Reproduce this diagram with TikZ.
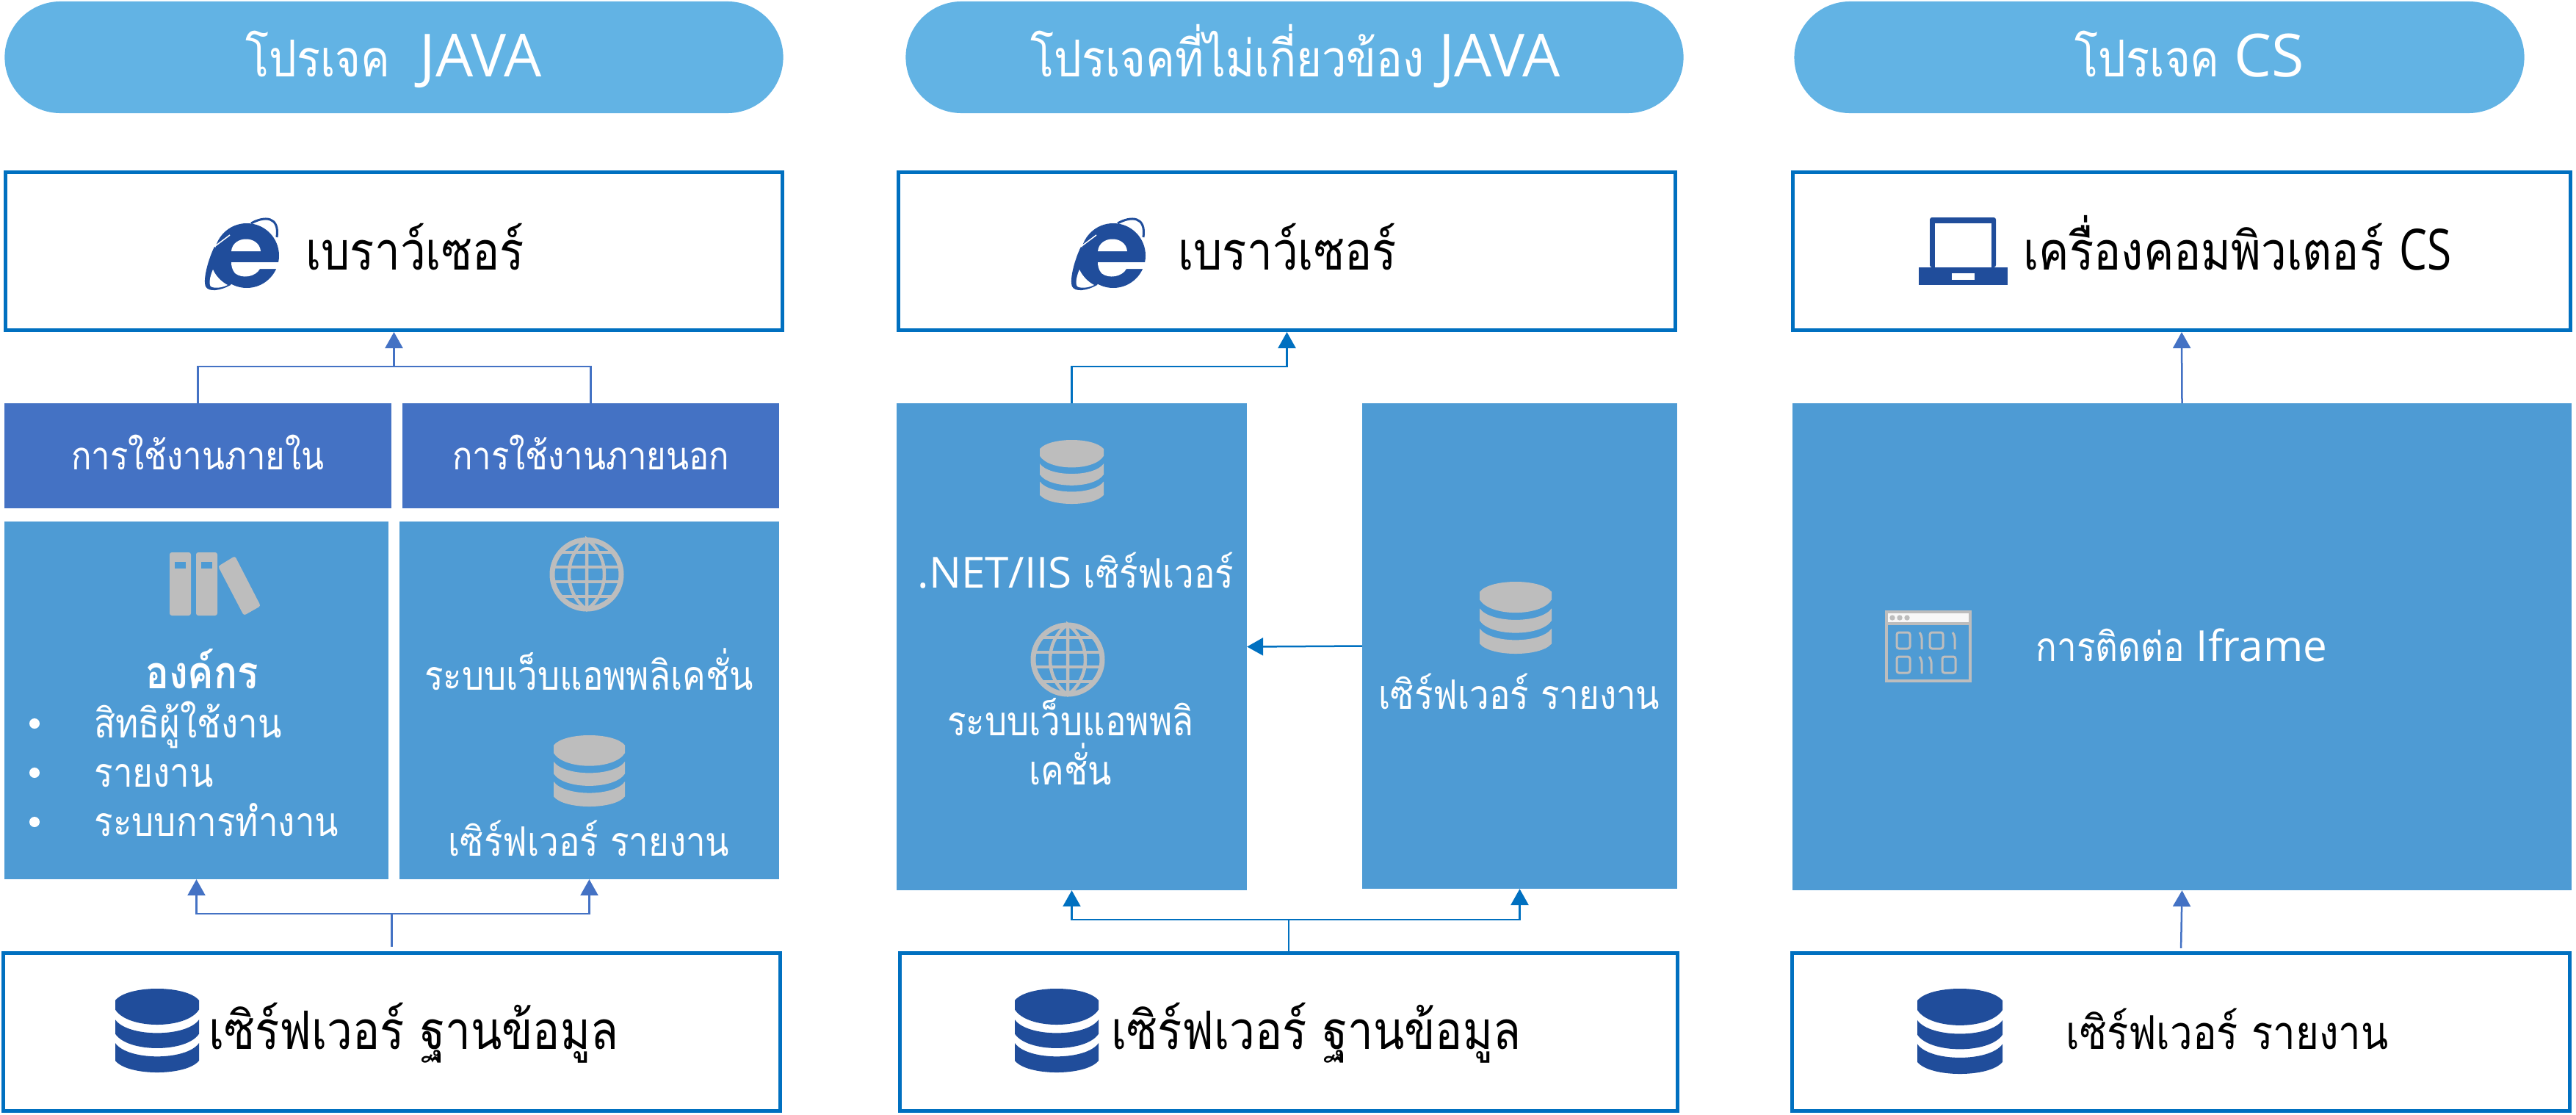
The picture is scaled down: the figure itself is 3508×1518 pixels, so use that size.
\documentclass[tikz,border=0pt]{standalone}
\usepackage{fontspec}
\setmainfont[Script=Thai,FakeStretch=0.86]{Loma}
\newfontfamily\latinfont{Open Sans}
\newfontfamily\narrowfont[FakeStretch=0.78]{Open Sans}
\usetikzlibrary{arrows.meta,shapes.misc}

\definecolor{pillblue}{HTML}{62B3E4}
\definecolor{blockblue}{HTML}{4E9BD4}
\definecolor{headblue}{HTML}{4472C4}
\definecolor{edgeblue}{HTML}{0070C0}
\definecolor{iconnavy}{HTML}{204D9B}
\definecolor{icongray}{HTML}{BDBDBD}

\newcommand{\titleword}[1]{{\latinfont\fontsize{23}{28}\selectfont #1}}
\newcommand{\frameword}[1]{{\narrowfont\fontsize{22}{28}\selectfont #1}}
\newcommand{\blockword}[1]{{\latinfont\fontsize{16.6}{20}\selectfont #1}}

\tikzset{
  pillbox/.style={rounded rectangle,fill=pillblue,minimum height=1.52cm,outer sep=0pt},
  framebox/.style={draw=edgeblue,line width=0.05cm,fill=white,minimum width=10.58cm,minimum height=2.15cm},
  headbox/.style={fill=headblue,minimum height=1.43cm,outer sep=0pt,text=white,font=\fontsize{15}{20}\selectfont,text height=15pt,text depth=4pt},
  blockbox/.style={fill=blockblue,outer sep=0pt},
  titletext/.style={anchor=base,text=white,inner sep=0pt,font=\fontsize{19.7}{28}\selectfont},
  frametext/.style={anchor=base,text=black,inner sep=0pt,font=\fontsize{20.5}{28}\selectfont},
  blocktext/.style={anchor=base,text=white,inner sep=0pt,font=\fontsize{15.7}{20}\selectfont},
  wire/.style={line width=0.025cm},
  tipped/.style={-{Triangle[length=0.22cm,width=0.24cm]}},
  pics/dbicon/.style={code={
    \fill[#1] (0,14) .. controls (15,-4.67) and (85,-4.67) .. (100,14) -- (100,25) .. controls (85,49) and (15,49) .. (0,25) -- cycle;
    \fill[#1] (0,37) .. controls (15,58.3) and (85,58.3) .. (100,37) -- (100,54) .. controls (85,76.7) and (15,76.7) .. (0,54) -- cycle;
    \fill[#1] (0,65) .. controls (15,86.3) and (85,86.3) .. (100,65) -- (100,86) .. controls (85,104.7) and (15,104.7) .. (0,86) -- cycle;
  }},
  pics/globeicon/.style={code={
    \draw[icongray,line width=0.07cm] (0,0) circle (47);
    \draw[icongray,line width=0.045cm] (0,-48) .. controls (-32,-25) and (-32,25) .. (0,48) .. controls (32,25) and (32,-25) .. (0,-48) -- (0,48);
    \foreach \yy/\xx in {-30/36,-10/47,10/47,30/36}
      \draw[icongray,line width=0.045cm] (-\xx,\yy) -- (\xx,\yy);
  }},
  pics/ielogo/.style={code={
    \fill[iconnavy] (32,56) .. controls (24,72) and (16,100) .. (20,110) .. controls (24,118) and (40,116) .. (54,108) -- (70,80) -- cycle;
    \fill[white] (30,87) .. controls (26,96) and (24,106) .. (27,110) .. controls (32,113) and (42,112) .. (50,108) .. controls (42,104) and (34,96) .. (30,87) -- cycle;
    \fill[iconnavy] (76,68) circle (44);
    \draw[iconnavy,line width=0.03cm] (82,24) .. controls (100,14) and (121,14) .. (117,43);
    \draw[white,line width=0.015cm] (33,55) -- (53,40);
    \fill[white] (55,62) .. controls (57,40) and (93,40) .. (95,62) -- cycle;
    \fill[white] (55,77) -- (124,77) -- (118,86) -- (94,86) .. controls (88,97) and (70,100) .. (60,92) .. controls (56,87) and (55,82) .. (55,77) -- cycle;
  }}
}

\begin{document}
\begin{tikzpicture}[x=0.01cm,y=-0.01cm]
  \useasboundingbox (0,0) rectangle (3508,1518);

  % titles
  \node[pillbox,minimum width=10.83cm] (pilla) at (536.5,78) {};
  \node[pillbox,minimum width=10.82cm] (pillb) at (1763,78) {};
  \node[pillbox,minimum width=10.17cm] (pillc) at (2940.5,78) {};
  \node[titletext] (titlea) at (536,104) {โปรเจค\ \ \titleword{JAVA}};
  \node[titletext] (titleb) at (1764,104) {โปรเจคที่ไม่เกี่ยวข้อง \titleword{JAVA}};
  \node[titletext] (titlec) at (2982,104) {โปรเจค \titleword{CS}};

  % JAVA column
  \node[framebox] (browsera) at (536.5,342) {};
  \node[headbox,minimum width=5.27cm] (usein) at (269.5,620.5) {การใช้งานภายใน};
  \node[headbox,minimum width=5.13cm] (useout) at (804.5,620.5) {การใช้งานภายนอก};
  \node[blockbox,minimum width=5.23cm,minimum height=4.87cm] (orgbox) at (267.5,953.5) {};
  \node[blockbox,minimum width=5.17cm,minimum height=4.87cm] (webbox) at (802.5,953.5) {};
  \node[framebox] (dba) at (533.5,1405) {};
  \pic at (260,280) {ielogo};
  \node[frametext] (browsertexta) at (565,367) {เบราว์เซอร์};
  % books
  \fill[icongray,rounded corners=0.03cm] (231,752) rectangle (260,838);
  \fill[icongray,rounded corners=0.03cm] (267,752) rectangle (296,838);
  \fill[blockblue] (238,765) rectangle (253,774);
  \fill[blockblue] (274,765) rectangle (289,774);
  \fill[icongray,rounded corners=0.03cm] (297,771) -- (320,757) -- (355,825) -- (332,838) -- cycle;
  \node[blocktext,font=\fontsize{17.5}{20}\selectfont\bfseries] (orgname) at (275,937) {องค์กร};
  \foreach \yy/\nm/\txt in {985/rowa/สิทธิผู้ใช้งาน,1052/rowb/รายงาน,1119/rowc/ระบบการทำงาน}{
    \fill[white] (47,\yy) circle (7);
    \node[blocktext,anchor=base west] (\nm) at (128,\yy+19) {\txt};
  }
  \pic at (799,782) {globeicon};
  \node[blocktext] (webname) at (802,939) {ระบบเว็บแอพพลิเคชั่น};
  \pic[scale=0.97] at (754,1001) {dbicon=icongray};
  \node[blocktext] (repname) at (802,1165) {เซิร์ฟเวอร์ รายงาน};
  \pic[scale=1.14] at (157,1346) {dbicon=iconnavy};
  \node[frametext] (dbtexta) at (563,1428) {เซิร์ฟเวอร์ ฐานข้อมูล};
  \coordinate (joina) at (536.5,499);
  \coordinate (joinb) at (533.5,1244);
  \draw[wire,headblue] (usein.north) |- (joina) -| (useout.north);
  \draw[wire,headblue,tipped] (joina) -- (browsera.south);
  \draw[wire,headblue,shorten <=0.06cm] (dba.north) -- (joinb);
  \draw[wire,headblue,tipped] (joinb) -| (orgbox.south);
  \draw[wire,headblue,tipped] (joinb) -| (webbox.south);

  % other JAVA column
  \node[framebox] (browserb) at (1752.5,342) {};
  \node[blockbox,minimum width=4.77cm,minimum height=6.63cm] (netbox) at (1459.5,880.5) {};
  \node[blockbox,minimum width=4.29cm,minimum height=6.61cm] (repbox) at (2069.5,879.5) {};
  \node[framebox] (dbb) at (1755,1405) {};
  \pic at (1440,280) {ielogo};
  \node[frametext] (browsertextb) at (1753,367) {เบราว์เซอร์};
  \pic[scale=0.87] at (1416,599) {dbicon=icongray};
  \node[blocktext] (netname) at (1465,800) {\blockword{.NET/IIS} เซิร์ฟเวอร์};
  \pic at (1454,898) {globeicon};
  \node[blocktext] (webnamea) at (1458,1001) {ระบบเว็บแอพพลิ};
  \node[blocktext] (webnameb) at (1458,1068) {เคชั่น};
  \pic[scale=0.98] at (2015,792) {dbicon=icongray};
  \node[blocktext] (repnameb) at (2069,965) {เซิร์ฟเวอร์ รายงาน};
  \pic[scale=1.14] at (1382,1346) {dbicon=iconnavy};
  \node[frametext] (dbtextb) at (1792,1428) {เซิร์ฟเวอร์ ฐานข้อมูล};
  \coordinate (joinc) at (1752.5,499);
  \coordinate (joind) at (1755,1252);
  \draw[wire,edgeblue,tipped] (netbox.north) |- (joinc) -- (browserb.south);
  \draw[wire,edgeblue,tipped] (repbox.west) -- (netbox.east);
  \draw[wire,edgeblue] (dbb.north) -- (joind);
  \draw[wire,edgeblue,tipped] (joind) -| (netbox.south);
  \draw[wire,edgeblue,tipped] (joind) -| (repbox.south);

  % CS column
  \node[framebox] (browserc) at (2971,342) {};
  \node[blockbox,minimum width=10.61cm,minimum height=6.63cm] (iframebox) at (2971.5,880.5) {};
  \node[framebox] (dbc) at (2970,1405) {};
  \fill[iconnavy,rounded corners=0.03cm] (2628,364) -- (2628,296) -- (2718,296) -- (2718,364) -- cycle;
  \fill[white] (2635,304) rectangle (2712,364);
  \fill[iconnavy] (2613,364) rectangle (2734,388);
  \fill[white] (2658,372) rectangle (2689,381);
  \node[frametext] (pctext) at (3047,367) {เครื่องคอมพิวเตอร์ \frameword{CS}};
  % binary window
  \fill[icongray] (2567,831) rectangle (2685,929);
  \fill[blockblue] (2571,851) rectangle (2681,925);
  \fill[white!90!icongray] (2571,835) rectangle (2681,847);
  \foreach \xx in {2577,2587,2597}
    \fill[icongray] (\xx,841) circle (3.7);
  \begin{scope}[icongray,line width=0.03cm,rounded corners=0.03cm]
    \foreach \xa/\ya in {2583/861,2628/861,2583/894}
      \draw (\xa,\ya) rectangle +(18,22);
    \draw (2645,894) rectangle +(18,22);
    \draw (2614,861) -- (2617,866) -- (2617,884);
    \draw (2659,861) -- (2662,866) -- (2662,884);
    \draw (2614,894) -- (2617,899) -- (2617,917);
    \draw (2627,894) -- (2630,899) -- (2630,917);
  \end{scope}
  \node[blocktext] (iframename) at (2971,900) {การติดต่อ \blockword{Iframe}};
  \pic[scale=1.16] at (2611,1346) {dbicon=iconnavy};
  \node[frametext,font=\fontsize{18}{28}\selectfont] (dbtextc) at (3033,1428) {เซิร์ฟเวอร์ รายงาน};
  \draw[wire,headblue,tipped] (iframebox.north) -- (browserc.south);
  \draw[wire,headblue,tipped,shorten <=0.04cm] (dbc.north) -- (iframebox.south);
\end{tikzpicture}
\end{document}
